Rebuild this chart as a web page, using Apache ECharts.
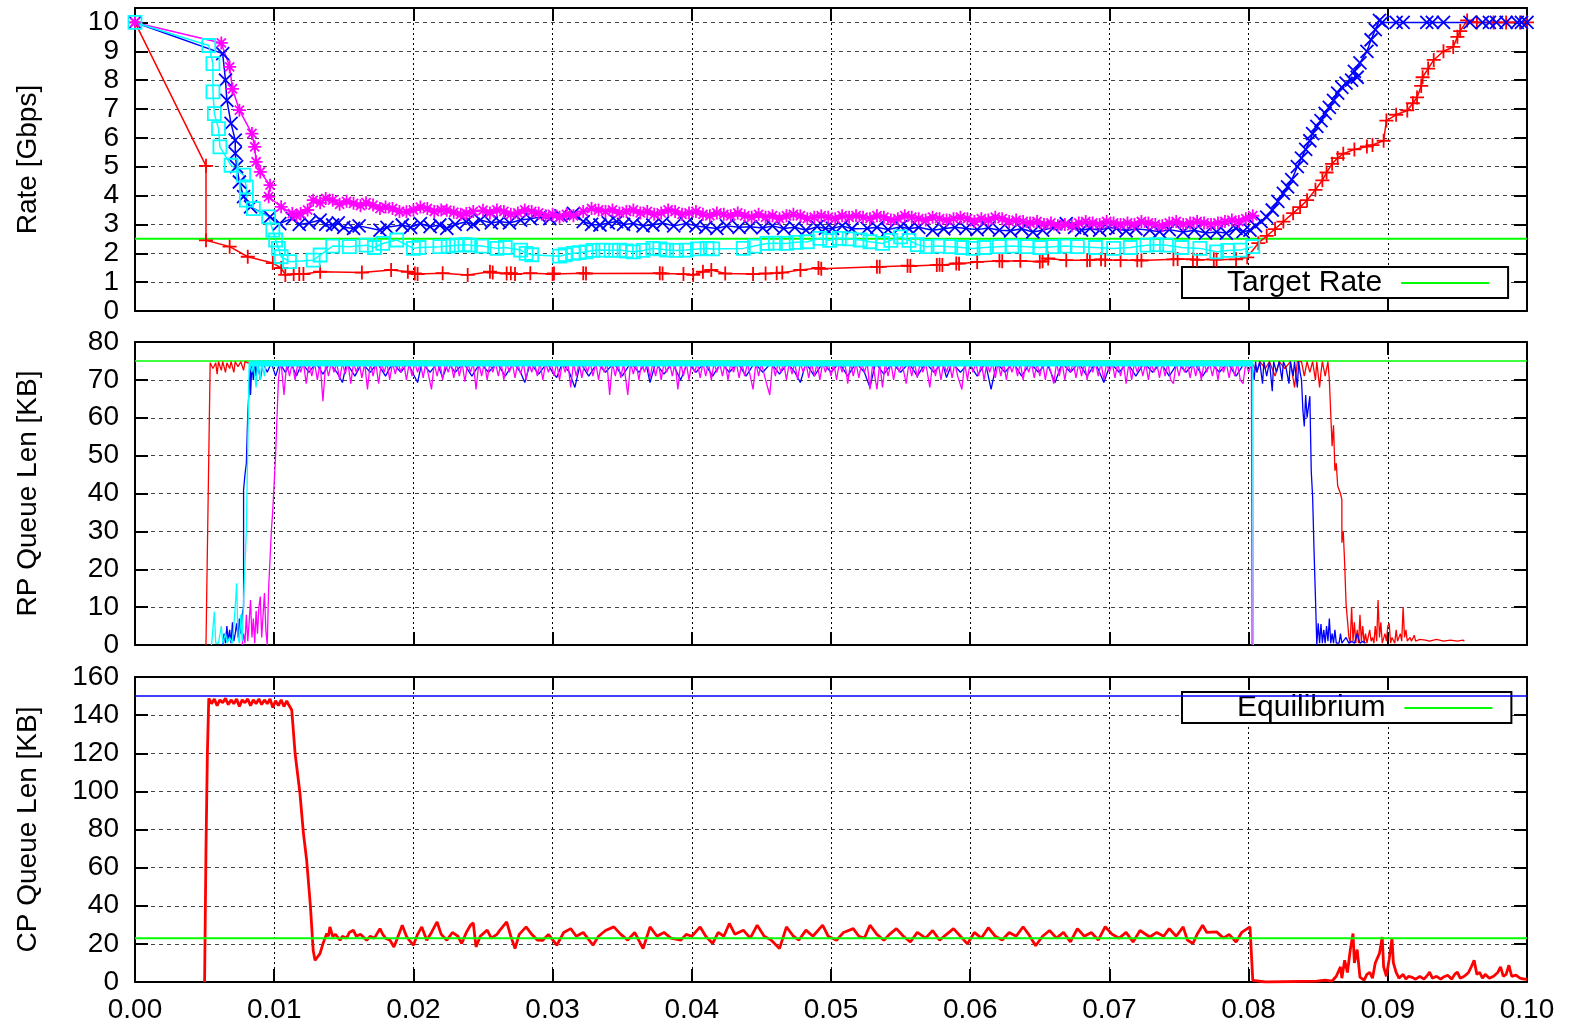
<!DOCTYPE html>
<html><head><meta charset="utf-8">
<script src="https://cdn.jsdelivr.net/npm/echarts@6/dist/echarts.min.js"></script>
<style>html,body{margin:0;padding:0;background:#fff}#c{width:1569px;height:1030px}</style>
</head><body><div id="c"></div>
<script>
// ---------- tick labels ----------
const xTickLabels = ['0.00','0.01','0.02','0.03','0.04','0.05','0.06','0.07','0.08','0.09','0.10'];
const rateTicks = ['0','1','2','3','4','5','6','7','8','9','10'];
const rpTicks = ['0','10','20','30','40','50','60','70','80'];
const cpTicks = ['0','20','40','60','80','100','120','140','160'];

// ---------- reference levels ----------
const targetRate = 2.5;      // Gbps
const rpLevel = 75;          // KB
const cpThreshold = 150;     // KB
const cpEquilibrium = 23;    // KB
const timeSpan = [0, 100];   // ms

// ---------- data: [time (ms), value] ----------
const rateRed = [[0,10],[5.1,5.03],[5.1,2.45],[6.8,2.23],[8.1,1.88],[9.9,1.66],[10.5,1.49],[10.8,1.25],[11.4,1.28],[11.8,1.28],[12.1,1.28],[13.3,1.36],[16.3,1.33],[18.4,1.42],[19.6,1.36],[20.1,1.3],[20.3,1.28],[22.1,1.31],[23.9,1.25],[25.5,1.36],[25.7,1.33],[26.7,1.3],[27.0,1.31],[27.3,1.28],[28.4,1.31],[30.0,1.28],[30.1,1.3],[32.2,1.31],[32.4,1.3],[37.7,1.31],[37.9,1.3],[39.4,1.28],[40.1,1.25],[40.8,1.36],[41.4,1.42],[42.4,1.3],[44.4,1.28],[45.3,1.3],[46.1,1.31],[46.5,1.33],[47.8,1.42],[49.1,1.49],[49.3,1.46],[53.3,1.53],[53.5,1.53],[55.5,1.57],[55.7,1.56],[57.6,1.59],[57.8,1.6],[58.0,1.59],[59.0,1.65],[59.2,1.64],[60.5,1.7],[62.1,1.74],[62.3,1.72],[63.6,1.74],[65.0,1.71],[65.2,1.72],[65.6,1.82],[66.9,1.76],[68.4,1.76],[68.6,1.77],[69.4,1.79],[69.7,1.77],[70.8,1.76],[72.0,1.76],[72.3,1.75],[74.6,1.79],[74.9,1.8],[76.0,1.79],[76.3,1.77],[77.5,1.79],[77.7,1.78],[79.1,1.79],[79.9,1.86],[80.7,2.35],[81.3,2.6],[81.9,2.84],[82.5,3.1],[83.2,3.39],[83.7,3.6],[84.2,3.84],[84.8,4.2],[85.3,4.53],[85.6,4.8],[86.0,5.1],[86.4,5.3],[86.8,5.45],[87.6,5.6],[88.5,5.7],[88.9,5.75],[89.7,5.9],[89.9,6.6],[90.6,6.8],[91.4,6.95],[91.8,7.2],[92.1,7.4],[92.4,7.8],[92.5,8.1],[92.9,8.4],[93.3,8.7],[94.0,9.0],[94.7,9.15],[95.0,9.5],[95.2,9.7],[95.7,10.07],[96.4,10],[97.6,10],[98.5,10],[99.5,10],[100,10]];

const rateBlue = [[0,10],[6.3,8.92],[6.5,8.0],[6.6,7.3],[6.9,6.5],[7.2,5.92],[7.2,5.46],[7.3,5.0],[7.5,4.47],[7.8,3.96],[8.3,3.61],[9.7,3.26],[10.4,3.03],[11.3,3.21],[11.8,3.0],[12.5,3.05],[13.3,3.15],[13.7,3.0],[14.2,2.98],[14.6,3.05],[15.0,2.9],[15.7,2.86],[16.1,2.95],[17.6,2.8],[18.1,2.9],[19.2,2.98],[19.8,2.9],[20.5,3.03],[21.2,2.92],[21.9,2.98],[22.4,2.86],[23.0,3.0],[23.8,3.09],[24.3,3.0],[24.8,3.15],[25.6,3.05],[26.2,3.1],[26.9,3.05],[27.7,3.15],[28.4,3.2],[29.1,3.26],[29.8,3.2],[30.6,3.3],[31.5,3.38],[32.2,3.1],[32.8,3.0],[33.4,2.98],[34.0,3.05],[34.6,3.1],[35.1,3.0],[35.8,3.03],[36.5,2.95],[37.2,2.98],[37.9,3.05],[38.7,2.95],[39.6,3.03],[40.3,2.95],[41.0,2.9],[41.8,2.86],[42.5,2.95],[43.4,2.9],[44.2,2.92],[45.1,2.88],[45.8,2.95],[46.6,2.86],[47.4,2.9],[48.2,2.8],[49.0,2.92],[49.6,2.86],[50.1,2.86],[50.8,2.95],[51.5,2.85],[52.6,2.86],[53.3,2.9],[54.1,2.82],[55.0,2.92],[55.6,2.85],[56.3,2.9],[57.3,2.8],[58.1,2.85],[58.9,2.9],[59.7,2.86],[60.5,2.82],[61.3,2.88],[62.1,2.8],[62.9,2.78],[63.7,2.85],[64.5,2.74],[65.2,2.8],[66.0,2.9],[66.9,3.03],[67.5,2.9],[68.0,2.8],[68.6,2.86],[69.3,2.8],[69.9,2.9],[70.5,2.86],[71.2,2.78],[71.9,2.85],[72.9,2.8],[73.6,2.75],[74.3,2.82],[75.3,2.74],[76.1,2.8],[76.9,2.7],[77.7,2.74],[78.4,2.7],[79.1,2.86],[79.6,2.75],[80.1,2.8],[80.5,2.95],[80.9,3.1],[81.3,3.25],[81.7,3.5],[82.1,3.8],[82.5,4.08],[82.8,4.3],[83.1,4.55],[83.5,5.0],[83.8,5.3],[84.1,5.6],[84.4,5.9],[84.6,6.15],[84.9,6.4],[85.2,6.6],[85.5,6.85],[85.8,7.06],[86.1,7.3],[86.4,7.55],[86.7,7.75],[87.0,7.9],[87.4,8.0],[87.8,8.1],[87.6,8.3],[88.0,8.6],[88.5,9.0],[88.8,9.4],[89.1,9.75],[89.4,10.07],[89.6,10],[90.6,10],[91.1,10],[92.8,10],[93.2,10],[94.0,10],[95.9,10],[96.8,10],[97.3,10],[97.8,10],[98.5,10],[99.3,10],[99.6,10],[100,10]];

const rateMagenta = [[0,10],[6.2,9.29],[6.8,8.46],[7.0,7.7],[7.5,6.96],[8.4,6.15],[8.6,5.69],[8.7,5.17],[9.0,4.82],[9.7,4.36],[9.6,3.96],[10.5,3.61],[11.3,3.38],[11.6,3.3],[11.9,3.38],[12.4,3.5],[12.8,3.84],[13.3,3.75],[13.7,3.9],[14.2,3.84],[14.7,3.7],[15.2,3.8],[15.7,3.73],[16.2,3.65],[16.6,3.75],[17.1,3.67],[17.6,3.55],[18.0,3.6],[18.5,3.55],[19.0,3.45],[19.5,3.44],[20.0,3.5],[20.5,3.6],[21.0,3.55],[21.5,3.45],[22.0,3.5],[22.4,3.49],[22.9,3.42],[23.4,3.35],[23.8,3.38],[24.3,3.45],[25.0,3.49],[25.5,3.4],[26.0,3.5],[26.5,3.45],[27.0,3.35],[27.5,3.4],[28.0,3.5],[28.5,3.45],[29.0,3.4],[29.5,3.3],[30.0,3.35],[30.5,3.25],[31.0,3.35],[31.5,3.3],[32.2,3.45],[32.8,3.55],[33.3,3.5],[33.8,3.45],[34.3,3.5],[34.8,3.4],[35.3,3.45],[35.8,3.5],[36.3,3.4],[36.8,3.45],[37.3,3.35],[37.8,3.4],[38.3,3.5],[38.8,3.45],[39.3,3.35],[39.8,3.4],[40.3,3.45],[40.8,3.35],[41.3,3.3],[41.8,3.4],[42.3,3.35],[42.8,3.3],[43.3,3.4],[43.8,3.3],[44.3,3.25],[44.8,3.35],[45.3,3.25],[45.8,3.3],[46.3,3.2],[46.8,3.3],[47.3,3.35],[47.8,3.3],[48.3,3.2],[48.8,3.25],[49.3,3.3],[49.8,3.25],[50.3,3.2],[50.8,3.3],[51.3,3.25],[51.8,3.3],[52.3,3.25],[52.8,3.2],[53.3,3.3],[53.8,3.25],[54.3,3.15],[54.8,3.2],[55.3,3.3],[55.8,3.25],[56.3,3.2],[56.8,3.15],[57.3,3.25],[57.8,3.2],[58.3,3.15],[58.8,3.2],[59.3,3.25],[59.8,3.2],[60.3,3.1],[60.8,3.2],[61.3,3.15],[61.8,3.25],[62.3,3.2],[62.8,3.1],[63.3,3.15],[63.8,3.1],[64.3,3.05],[64.8,3.1],[65.3,3.0],[65.8,3.05],[66.3,2.95],[66.8,3.0],[67.3,2.95],[67.8,3.05],[68.3,3.1],[68.8,3.05],[69.3,3.0],[69.8,3.1],[70.3,3.05],[70.8,3.0],[71.3,3.05],[71.8,3.0],[72.3,3.1],[72.8,3.05],[73.3,3.0],[73.8,2.95],[74.3,3.05],[74.8,3.1],[75.3,3.0],[75.8,3.05],[76.3,3.1],[76.8,3.05],[77.3,3.0],[77.8,3.05],[78.3,3.1],[78.8,3.15],[79.3,3.1],[79.8,3.2],[80.3,3.3]];

const rateCyan = [[0,10],[5.3,9.2],[5.6,8.57],[5.6,7.59],[5.7,6.84],[6.0,6.32],[6.1,5.69],[6.9,5.05],[7.8,4.71],[8.0,4.3],[8.0,3.84],[8.5,3.55],[9.6,3.26],[9.9,2.8],[10.1,2.46],[10.3,2.17],[10.5,1.88],[11.1,1.71],[12.8,1.76],[13.3,1.94],[14.2,2.25],[15.4,2.23],[16.6,2.28],[17.2,2.2],[17.8,2.34],[18.8,2.46],[20.0,2.17],[20.4,2.2],[21.9,2.23],[22.5,2.25],[23.1,2.28],[23.7,2.3],[24.1,2.28],[24.9,2.25],[26.0,2.17],[26.6,2.2],[27.7,2.11],[28.1,2.0],[28.5,1.95],[30.5,1.9],[30.9,1.95],[31.5,2.0],[31.9,2.02],[32.4,2.05],[32.9,2.1],[33.6,2.11],[34.2,2.1],[34.8,2.11],[35.3,2.08],[35.8,2.05],[36.5,2.1],[37.2,2.17],[37.7,2.15],[38.2,2.11],[38.9,2.1],[39.6,2.11],[40.4,2.15],[41.1,2.17],[41.5,2.15],[43.7,2.17],[44.5,2.25],[45.4,2.34],[46.0,2.35],[46.8,2.34],[47.5,2.38],[48.3,2.4],[49.2,2.52],[49.9,2.45],[50.6,2.52],[51.3,2.5],[52.1,2.46],[52.8,2.4],[53.7,2.34],[54.3,2.45],[55.0,2.57],[55.6,2.45],[56.2,2.3],[56.9,2.23],[57.7,2.25],[58.6,2.23],[59.4,2.2],[60.2,2.17],[61.0,2.2],[62.1,2.23],[63.0,2.25],[64.1,2.23],[65.0,2.2],[66.0,2.23],[66.8,2.25],[67.7,2.23],[69.0,2.2],[70.3,2.17],[71.5,2.2],[72.7,2.28],[73.4,2.3],[74.1,2.28],[75.2,2.2],[76.5,2.17],[77.7,2.05],[78.5,2.1],[79.4,2.11],[80.3,2.23]];

const rpRed = [[5.1,0],[5.15,12.8],[5.4,74.5],[5.6,73],[5.8,74.5],[5.9,71.5],[6.0,74.8],[6.2,72.5],[6.3,74.8],[6.5,72],[6.6,74.5],[6.8,73],[6.9,74.8],[7.1,72],[7.2,74.8],[7.4,73.5],[7.6,74.8],[7.8,72.5],[7.9,74.8],[8.1,74.5],[20,74.8],[40,74.5],[60,74.8],[79.5,74.5],[80.2,74.8],[80.6,72],[80.8,74.8],[81.2,73],[81.5,74.8],[81.9,71],[82.2,74.8],[82.6,73],[83.0,74.8],[83.3,68],[83.5,74.8],[83.8,74.8],[84.0,71],[84.2,74.8],[84.4,72],[84.6,74.8],[84.8,70],[84.9,74.8],[85.1,68],[85.2,72],[85.3,74.8],[85.5,71],[85.7,74.8],[85.8,70],[86.0,52.5],[86.1,58],[86.2,46],[86.3,48],[86.4,42],[86.6,40],[86.7,38.4],[86.7,27],[86.8,30],[86.9,21.6],[87.0,11],[87.2,2.2],[87.3,0.5],[87.4,10],[87.5,1],[87.6,6],[87.7,0.5],[87.8,4],[87.9,0.5],[88.0,8],[88.1,1],[88.2,5],[88.3,0.5],[88.4,3],[88.5,0.5],[88.7,4],[88.8,1],[88.9,2],[89.0,0.5],[89.1,5],[89.2,1],[89.3,11.9],[89.4,2],[89.5,6],[89.6,0.5],[89.8,3],[89.9,1],[90.0,5],[90.1,5.7],[90.2,0.5],[90.3,2],[90.5,0.5],[90.6,4],[90.7,1],[90.9,3],[91.0,1],[91.1,10],[91.2,2],[91.3,4],[91.4,1],[91.6,2],[91.7,1],[91.9,2.6],[92.0,1],[92.3,1.5],[92.7,1.3],[93.0,1],[93.5,1.5],[94.0,1],[94.5,1.3],[95.0,1],[95.4,1.3],[95.5,1]];

const rpBlue = [[6.3,0],[6.4,3],[6.5,0.5],[6.6,5],[6.7,1],[6.8,4],[6.9,0.5],[7.0,6],[7.1,1],[7.2,3],[7.3,5.7],[7.4,2],[7.5,7],[7.6,3],[7.7,8],[7.8,10],[7.8,41],[7.9,45],[8.0,48],[8.1,61],[8.3,74.5],[8.3,66],[8.4,74.5],[8.5,70],[8.6,74.8],[8.7,71],[8.8,74.8],[9.0,70],[9.2,74.5],[9.5,72],[9.8,74.5],[10.1,71],[10.4,74.5],[10.8,72],[11.2,74.5],[11.6,71],[12.0,74.5],[12.5,72],[13.0,74.5],[13.5,71.5],[14.0,74.5],[14.5,72],[14.9,69.3],[15.2,74.5],[15.8,71],[16.3,74.5],[16.9,72],[17.4,74.5],[18.0,71],[18.5,74.5],[19.1,72],[19.6,74.5],[20.0,71.5],[20.3,69.3],[20.6,74.5],[21.2,72],[21.7,74.5],[22.1,70.6],[22.5,74.5],[23.0,72],[23.6,74.5],[24.2,71],[24.8,74.5],[25.4,72],[26.0,74.5],[26.6,71],[27.2,74.5],[27.7,72],[28.0,69.3],[28.4,74.5],[29.0,71.5],[29.6,74.5],[30.0,72],[30.3,70.6],[30.7,74.5],[31.2,72],[31.6,68],[32.0,74.5],[32.6,71],[33.2,74.5],[33.8,72],[34.4,74.5],[35.0,71],[35.6,74.5],[36.2,72],[36.7,74.5],[37.0,69.3],[37.4,74.5],[38.0,71.5],[38.6,74.5],[39.2,70],[39.7,74.5],[40.3,72],[40.9,74.5],[41.5,71],[42.1,74.5],[42.7,72],[43.3,74.5],[43.9,71],[44.5,74.5],[45.1,72],[45.7,74.5],[46.3,71.5],[46.9,74.5],[47.4,72],[47.8,69.3],[48.2,74.5],[48.8,71],[49.4,74.5],[50.0,72],[50.6,74.5],[51.2,71],[51.8,74.5],[52.4,72],[52.8,68],[53.2,74.5],[53.8,71.5],[54.4,74.5],[55.0,72],[55.6,74.5],[56.2,71],[56.8,74.5],[57.4,72],[58.0,74.5],[58.3,70.6],[58.7,74.5],[59.3,72],[59.9,74.5],[60.5,71],[61.1,74.5],[61.5,67.5],[61.9,74.5],[62.5,72],[63.1,74.5],[63.7,71],[64.3,74.5],[64.9,72],[65.5,74.5],[66.1,69.3],[66.6,74.5],[67.2,72],[67.8,74.5],[68.4,71],[69.0,74.5],[69.6,69.3],[70.1,74.5],[70.7,72],[71.3,74.5],[71.9,71],[72.5,74.5],[73.1,72],[73.7,74.5],[74.3,71],[74.9,74.5],[75.5,72],[76.1,74.5],[76.7,71],[77.3,74.5],[77.9,72],[78.5,74.5],[79.1,71],[79.7,74.5],[80.2,74.8],[80.4,70],[80.5,74.8],[80.6,72],[80.8,74.8],[81.0,69],[81.1,74.8],[81.3,71],[81.5,74.8],[81.7,67],[81.8,74.8],[82.0,72],[82.2,74.8],[82.4,70],[82.5,74.8],[82.7,73],[82.9,69],[83.0,74.8],[83.2,71],[83.3,74.8],[83.5,68],[83.6,74.8],[83.7,72],[83.8,70],[83.9,62],[84.0,57.7],[84.1,66],[84.2,60],[84.4,65.7],[84.5,46],[84.6,39],[84.7,25],[84.8,12.8],[84.9,0],[85.0,5.7],[85.1,0.5],[85.2,5.5],[85.3,0.5],[85.4,4],[85.5,0.5],[85.6,5],[85.7,1],[85.8,7],[85.9,0.5],[86.0,3],[86.1,0.5],[86.2,4],[86.3,0.5],[86.5,0.5],[86.6,3],[86.7,0.5],[87.0,2],[87.2,0.5],[87.4,1],[87.6,0.5],[87.8,3],[88.0,0.5],[88.2,1],[88.4,0.5]];

const rpMagenta = [[7.7,0],[7.8,3],[7.9,0.5],[8.0,8],[8.1,1],[8.2,6],[8.3,11.9],[8.4,2],[8.5,7],[8.6,0.5],[8.7,9],[8.8,3],[8.9,10],[9.0,12.8],[9.1,2],[9.2,8],[9.3,13.7],[9.4,4],[9.5,0],[9.6,15],[9.8,30.4],[9.9,35.7],[10.1,50],[10.3,70],[10.4,73],[10.5,74.5],[10.7,66],[10.9,74.5],[11.1,71],[11.3,74.5],[11.5,70],[11.7,74.5],[11.9,72],[12.1,74.5],[12.3,69],[12.5,74.5],[12.7,71],[12.9,74.5],[13.1,70],[13.3,74.5],[13.5,64.4],[13.7,74.5],[13.9,71],[14.1,74.5],[14.3,72],[14.5,74.5],[14.7,70],[14.9,74.5],[15.1,71.5],[15.3,74.5],[15.5,69],[15.7,74.5],[15.9,72],[16.1,74.5],[16.3,70.5],[16.5,74.5],[16.7,67.5],[16.9,74.5],[17.1,71],[17.3,74.5],[17.5,69],[17.7,74.5],[17.9,72],[18.1,74.5],[18.3,70],[18.5,74.5],[18.7,71.5],[18.9,74.5],[19.1,72],[19.3,74.5],[19.5,70],[19.7,74.5],[19.9,71],[20.1,74.5],[20.3,72],[20.5,74.5],[20.7,70.5],[20.9,74.5],[21.1,71],[21.3,67.5],[21.5,74.5],[21.7,71],[21.9,74.5],[22.1,70],[22.3,74.5],[22.5,72],[22.7,74.5],[22.9,70.5],[23.1,74.5],[23.3,71],[23.5,74.5],[23.7,69.5],[23.9,74.5],[24.1,72],[24.3,74.5],[24.5,67.5],[24.7,74.5],[24.9,71],[25.1,74.5],[25.3,70],[25.5,74.5],[25.7,72],[25.9,74.5],[26.1,71],[26.3,74.5],[26.5,70],[26.7,74.5],[26.9,72],[27.1,74.5],[27.3,70.5],[27.5,74.5],[27.7,71.5],[27.9,74.5],[28.1,70],[28.3,74.5],[28.5,72],[28.7,74.5],[28.9,71],[29.1,74.5],[29.3,70],[29.5,74.5],[29.7,72],[29.9,74.5],[30.1,71],[30.3,74.5],[30.5,70],[30.7,74.5],[30.9,72],[31.1,74.5],[31.3,68],[31.5,74.5],[31.7,71],[31.9,74.5],[32.1,70.5],[32.3,74.5],[32.5,72],[32.7,74.5],[32.9,71],[33.1,74.5],[33.3,70],[33.5,74.5],[33.7,72],[33.9,74.5],[34.1,66],[34.3,74.5],[34.5,71],[34.7,74.5],[34.9,70.5],[35.1,74.5],[35.4,66],[35.6,74.5],[35.8,71.5],[36.0,74.5],[36.2,70],[36.4,74.5],[36.6,72],[36.8,74.5],[37.0,70.5],[37.2,74.5],[37.4,71],[37.6,74.5],[37.8,70],[38.0,74.5],[38.2,72],[38.4,74.5],[38.6,71],[38.8,74.5],[39.0,67.5],[39.2,74.5],[39.4,71],[39.6,74.5],[39.8,70],[40.0,74.5],[40.2,72],[40.4,74.5],[40.6,70.5],[40.8,74.5],[41.0,71],[41.2,74.5],[41.4,70],[41.6,74.5],[41.8,72],[42.0,74.5],[42.2,71],[42.4,74.5],[42.6,70],[42.8,74.5],[43.0,72],[43.2,74.5],[43.4,70.5],[43.6,74.5],[43.8,71],[44.0,74.5],[44.4,67.5],[44.6,74.5],[44.8,71],[45.0,74.5],[45.3,70],[45.6,66],[45.8,74.5],[46.0,71],[46.2,74.5],[46.4,72],[46.6,74.5],[46.8,70],[47.0,74.5],[47.2,71.5],[47.4,74.5],[47.6,70],[47.8,74.5],[48.0,72],[48.2,74.5],[48.4,70.5],[48.6,74.5],[48.8,71],[49.0,74.5],[49.2,70],[49.4,74.5],[49.6,72],[49.8,74.5],[50.0,71],[50.2,74.5],[50.4,70],[50.6,74.5],[50.8,72],[51.0,74.5],[51.2,69],[51.4,74.5],[51.6,71],[51.8,74.5],[52.0,70.5],[52.2,74.5],[52.4,72],[52.6,74.5],[52.8,67.5],[53.0,74.5],[53.3,67.5],[53.5,74.5],[53.7,68],[53.9,74.5],[54.1,71],[54.3,74.5],[54.5,70],[54.7,74.5],[54.9,72],[55.1,74.5],[55.4,69],[55.6,74.5],[55.8,71],[56.0,74.5],[56.2,70.5],[56.4,74.5],[56.6,72],[56.8,74.5],[57.1,68],[57.3,74.5],[57.5,71],[57.7,74.5],[57.9,70],[58.1,74.5],[58.3,72],[58.5,74.5],[58.7,70.5],[58.9,74.5],[59.1,71],[59.4,67.5],[59.6,74.5],[59.8,70],[60.0,74.5],[60.2,72],[60.4,74.5],[60.6,71],[60.8,74.5],[61.0,70],[61.2,74.5],[61.4,72],[61.6,74.5],[61.8,70.5],[62.0,74.5],[62.2,71],[62.4,74.5],[62.6,70],[62.8,74.5],[63.0,72],[63.2,74.5],[63.4,71],[63.6,74.5],[63.8,70],[64.0,74.5],[64.2,72],[64.4,74.5],[64.6,70.5],[64.8,74.5],[65.0,71],[65.2,74.5],[65.4,70],[65.6,74.5],[65.8,72],[66.0,69],[66.2,74.5],[66.4,71],[66.6,74.5],[66.8,70],[67.0,74.5],[67.2,72],[67.4,74.5],[67.6,70.5],[67.8,74.5],[68.0,71],[68.2,74.5],[68.4,70],[68.6,74.5],[68.8,72],[69.0,74.5],[69.2,71],[69.4,74.5],[69.6,70],[69.8,74.5],[70.0,72],[70.2,74.5],[70.4,70.5],[70.6,74.5],[70.8,71],[71.0,74.5],[71.2,69],[71.4,74.5],[71.6,70],[71.8,74.5],[72.0,72],[72.2,74.5],[72.4,71],[72.6,74.5],[72.8,70],[73.0,74.5],[73.2,72],[73.4,74.5],[73.6,70.5],[73.8,74.5],[74.0,71],[74.2,74.5],[74.4,70],[74.6,69],[74.8,74.5],[75.0,71],[75.2,74.5],[75.4,72],[75.6,74.5],[75.8,70.5],[76.0,74.5],[76.2,71],[76.4,74.5],[76.6,70],[76.8,74.5],[77.0,72],[77.2,74.5],[77.4,71],[77.6,74.5],[77.8,70],[78.0,74.5],[78.2,72],[78.4,74.5],[78.6,70.5],[78.8,74.5],[79.0,71],[79.2,74.5],[79.4,70],[79.6,69],[79.8,74.5],[80.0,72],[80.2,74.5],[80.25,0]];

const rpCyan = [[5.5,0],[5.7,8.8],[5.8,0.5],[5.9,1],[6.0,0.5],[6.2,5],[6.3,0.5],[6.5,3],[6.6,0.5],[6.8,2],[7.0,0.5],[7.2,10],[7.3,16.3],[7.4,2],[7.5,0.5],[7.6,8],[7.7,1],[7.8,12],[8.0,30.4],[8.2,74.5],[8.4,72],[8.5,74.5],[8.7,68],[8.8,74.5],[9.0,70],[9.1,74.5],[9.3,71],[9.4,74.5],[80.3,74.5],[80.35,0]];
const rpCyanBand = [[8.2,74.35],[80.3,74.35]];

const cpRed = [[5.0,0],[5.1,70],[5.2,120],[5.3,148.8],[5.5,146],[5.7,148.5],[5.9,145],[6.1,148],[6.3,146.5],[6.5,148.8],[6.7,145.5],[6.9,148],[7.1,146],[7.3,148.5],[7.5,144.5],[7.7,148],[7.9,146.5],[8.1,148.5],[8.3,145],[8.5,148],[8.7,146],[8.9,148.5],[9.1,145.5],[9.3,148],[9.5,146],[9.7,148.5],[9.9,144],[10.1,147.5],[10.3,145],[10.5,148],[10.7,144.5],[10.9,147.5],[11.0,146],[11.26,142.7],[11.5,120],[11.85,99],[12.1,78],[12.33,64],[12.6,40],[12.8,16.6],[12.93,11.4],[13.1,13],[13.29,14.9],[13.5,20],[13.77,25.4],[13.9,24],[14.0,28.9],[14.2,24],[14.4,25],[14.73,21.9],[14.9,24],[15.2,23],[15.4,26],[15.68,27.2],[15.9,24],[16.2,25],[16.64,21.9],[16.9,24],[17.2,23],[17.6,28],[17.8,25],[18.0,23],[18.32,21.9],[18.6,18.4],[18.8,22],[19.2,29.8],[19.5,24],[19.7,22],[20.0,19.3],[20.3,25],[20.6,28.9],[20.96,21.9],[21.3,26],[21.7,31.5],[22.0,25],[22.4,21.9],[22.8,26],[23.2,24],[23.47,20.2],[23.8,26],[24.1,29.8],[24.3,31],[24.5,18.4],[24.8,24],[25.3,27.2],[25.6,23],[26.0,25],[26.22,27.2],[26.7,31.5],[27.0,24],[27.3,17.5],[27.6,25],[28.1,28.9],[28.5,25],[28.9,22],[29.3,21.9],[29.7,25],[30.3,19.3],[30.8,26],[31.3,28],[31.7,24],[32.2,26],[32.9,19.3],[33.3,24],[33.8,27],[34.4,28.9],[34.9,25],[35.4,22],[35.9,26],[36.5,17.5],[37.0,28.9],[37.5,24],[38.0,26],[38.5,23],[39.2,21.9],[39.6,25],[40.0,24],[40.6,28.9],[41.0,24],[41.5,20.2],[41.9,26],[42.3,24],[42.7,30.7],[43.1,25],[43.7,27.2],[44.2,23],[44.7,29.8],[45.2,24],[45.7,22],[46.3,17.5],[46.8,28.9],[47.3,24],[47.7,22],[48.2,27.2],[48.7,24],[49.4,29.8],[49.8,24],[50.4,21.9],[50.9,26],[51.6,28],[52.0,24],[52.4,23],[52.8,29.8],[53.3,25],[53.8,21.9],[54.2,25],[54.7,28],[55.2,24],[55.7,21],[56.2,26],[56.8,23],[57.3,27],[57.8,22],[58.3,25],[58.8,28],[59.3,24],[59.8,20],[60.3,26],[60.8,23],[61.3,28.5],[61.8,24],[62.3,22],[62.8,26],[63.3,24],[63.8,29],[64.2,25],[64.7,19],[65.2,24],[65.7,27],[66.2,23],[66.7,26],[67.2,21],[67.7,28],[68.2,24],[68.7,26],[69.2,22],[69.7,29],[70.2,25],[70.7,23],[71.2,26],[71.7,21],[72.2,27],[72.9,23.6],[73.4,26],[73.9,24],[74.3,28],[74.8,24],[75.3,28.9],[75.6,22],[76.0,20.2],[76.3,25],[76.7,29.8],[77.0,26],[77.7,26.3],[78.2,23],[78.6,25],[79.1,21],[79.5,26],[80.1,28.9],[80.3,0.9],[80.4,0],[81.2,0],[81.3,1],[81.4,0],[84.9,0.5],[85.5,1],[86.0,0.5],[86.3,3],[86.6,7.9],[86.7,2],[86.9,11.4],[87.1,5],[87.3,16.6],[87.5,25.4],[87.6,10],[87.8,17],[88.0,2.6],[88.3,1],[88.5,4],[88.7,5],[88.9,2],[89.1,10],[89.4,15],[89.6,23.6],[89.7,8],[89.9,3],[90.1,12],[90.3,22.8],[90.4,10],[90.6,5],[90.8,2],[91.1,4],[91.3,1.5],[91.5,3],[91.7,2.6],[92.0,1.5],[92.3,3],[92.6,1.5],[92.9,4],[93.0,5.2],[93.2,2],[93.5,3],[93.8,1.5],[94.0,2.6],[94.3,3.5],[94.6,1.5],[94.8,4],[95.0,5.2],[95.2,2],[95.5,3],[95.8,5],[96.0,8],[96.2,11.4],[96.4,4],[96.6,5],[96.8,2],[97.0,4],[97.3,2],[97.6,3],[97.9,5],[98.1,7.9],[98.3,3],[98.5,4],[98.7,8.8],[98.9,3],[99.2,3.6],[99.5,2],[99.8,1.5],[100,1.5]];

// ---------- chart ----------
const FONT = "'Liberation Sans', Arial, Helvetica, sans-serif";
const COL = {red:'#ff0000', green:'#00ff00', blue:'#0000ff', magenta:'#ff00ff', cyan:'#00ffff'};
const toSec = a => a.map(p => [p[0] / 1000, p[1]]);
const level = v => toSec([[timeSpan[0], v], [timeSpan[1], v]]);
const SYM = {
  plus: 'path://M0,5L10,5M5,0L5,10',
  cross: 'path://M0,0L10,10M0,10L10,0',
  star: 'path://M0,5L10,5M5,0L5,10M1.5,1.5L8.5,8.5M1.5,8.5L8.5,1.5',
  box: 'path://M0,0L10,0L10,10L0,10Z'
};

const grids = [
  {left:135, right:42, top:8, height:303},
  {left:135, right:42, top:342, height:303},
  {left:135, right:42, top:677, height:305}
];

function xAx(g, pos, showLabel) {
  return {
    type:'value', gridIndex:g, position:pos, min:0, max:0.1, interval:0.01,
    axisLine:{show:true, onZero:false, lineStyle:{color:'#000', width:2}},
    axisTick:{show:true, inside:true, length:13, lineStyle:{color:'#000', width:2}},
    axisLabel:{show:showLabel, margin:14, fontSize:28, color:'#000', fontFamily:FONT,
      formatter: v => xTickLabels[Math.round(v * 100)] ?? ''},
    splitLine:{show:pos === 'bottom', lineStyle:{color:'#000', type:[2,3], width:1}}
  };
}
function yAx(g, pos, max, interval, labels, name) {
  return {
    type:'value', gridIndex:g, position:pos, min:0, max, interval,
    name: pos === 'left' ? name : '', nameLocation:'middle', nameGap:93,
    nameTextStyle:{fontSize:28, color:'#000', fontFamily:FONT},
    axisLine:{show:true, onZero:false, lineStyle:{color:'#000', width:2}},
    axisTick:{show:true, inside:true, length:13, lineStyle:{color:'#000', width:2}},
    axisLabel:{show:pos === 'left', margin:16, fontSize:28, color:'#000', fontFamily:FONT,
      formatter: v => { const i = Math.round(v / interval); return Math.abs(v - i * interval) < 1e-9 ? (labels[i] ?? '') : ''; }},
    splitLine:{show:pos === 'left', lineStyle:{color:'#444', type:[4,4], width:1}}
  };
}

function rateS(name, data, color, symbol, size) {
  return {name, type:'line', xAxisIndex:0, yAxisIndex:0, data:toSec(data),
    symbol, symbolSize:size, showSymbol:true, showAllSymbol:true,
    lineStyle:{color, width:1.5}, itemStyle:{color:'none', borderColor:color, borderWidth:1.8},
    emphasis:{disabled:true}, animation:false};
}
function lineS(name, axis, data, color, width) {
  return {name, type:'line', xAxisIndex:axis, yAxisIndex:axis, data:toSec(data),
    symbol:'none', showSymbol:false, lineStyle:{color, width}, itemStyle:{color},
    emphasis:{disabled:true}, animation:false};
}
function levelS(name, axis, v, color, width) {
  return {name, type:'line', xAxisIndex:axis, yAxisIndex:axis, data:level(v),
    symbol:'none', showSymbol:false, lineStyle:{color, width}, itemStyle:{color},
    emphasis:{disabled:true}, animation:false};
}

const legendBase = {
  orient:'horizontal', align:'right', selectedMode:false, icon:'rect',
  itemWidth:88, itemHeight:2, itemGap:0, z:1,
  backgroundColor:'#fff', borderColor:'#000', borderWidth:2, borderRadius:0,
  textStyle:{fontSize:30, color:'#000', fontFamily:FONT, padding:[0,14,0,0]}
};

const option = {
  backgroundColor:'#fff',
  animation:false,
  grid: grids,
  xAxis: [xAx(0,'bottom',false), xAx(0,'top',false), xAx(1,'bottom',false), xAx(1,'top',false), xAx(2,'bottom',true), xAx(2,'top',false)],
  yAxis: [
    yAx(0,'left',10.5,1,rateTicks,'Rate [Gbps]'), yAx(0,'right',10.5,1,rateTicks,''),
    yAx(1,'left',80,10,rpTicks,'RP Queue Len [KB]'), yAx(1,'right',80,10,rpTicks,''),
    yAx(2,'left',160,20,cpTicks,'CP Queue Len [KB]'), yAx(2,'right',160,20,cpTicks,'')
  ],
  legend: [
    Object.assign({}, legendBase, {data:['Target Rate'], left:1182, top:267, padding:[1,19,0,45]}),
    Object.assign({}, legendBase, {data:['Equilibrium'], left:1182, top:692, padding:[1,19,0,55]})
  ],
  series: [
    levelS('Target Rate', 0, targetRate, COL.green, 2),
    rateS('r1', rateRed, COL.red, SYM.plus, 14),
    rateS('r2', rateBlue, COL.blue, SYM.cross, 13),
    rateS('r3', rateMagenta, COL.magenta, SYM.star, 13),
    rateS('r4', rateCyan, COL.cyan, SYM.box, 13),

    levelS('rpLevel', 2, rpLevel, COL.green, 1.5),
    lineS('q1', 2, rpRed, COL.red, 1.3),
    lineS('q2', 2, rpBlue, COL.blue, 1.3),
    lineS('q3', 2, rpMagenta, COL.magenta, 1.3),
    lineS('q4', 2, rpCyan, COL.cyan, 1.3),
    lineS('q4band', 2, rpCyanBand, COL.cyan, 6),

    levelS('cpThreshold', 4, cpThreshold, COL.blue, 1.5),
    lineS('cp', 4, cpRed, COL.red, 2.8),
    levelS('Equilibrium', 4, cpEquilibrium, COL.green, 2)
  ]
};
const chart = echarts.init(document.getElementById('c'), null, {renderer:'canvas'});
chart.setOption(option);
</script></body></html>
